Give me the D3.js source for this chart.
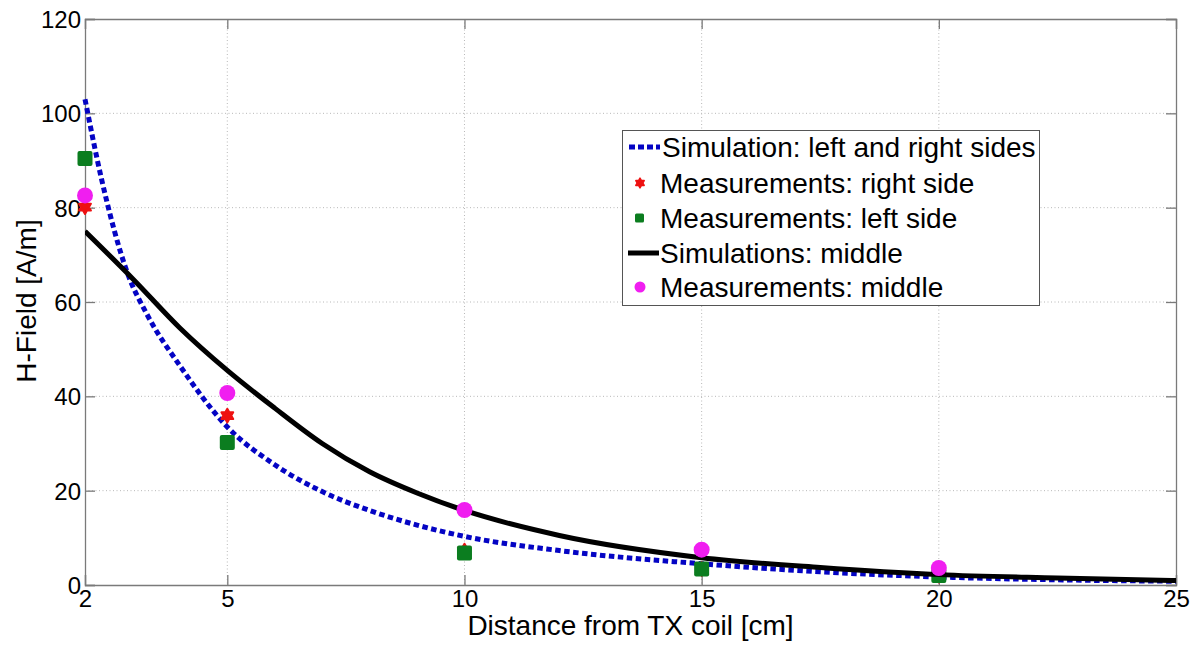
<!DOCTYPE html>
<html><head><meta charset="utf-8">
<script src="https://cdn.jsdelivr.net/npm/d3@7"></script>
<style>
html,body{margin:0;padding:0;background:#fff;}
svg{display:block;font-family:Arial,"Liberation Sans",sans-serif;}
</style></head>
<body><svg id="c" width="1202" height="649"></svg>
<script>
// ---- data ----
const xTicks = [2, 5, 10, 15, 20, 25];
const yTicks = [0, 20, 40, 60, 80, 100, 120];
const simSidesX = [2, 2.35, 2.9, 3.3, 4, 5, 6, 7, 8, 9, 10, 12, 15, 17.5, 20, 22.5, 25];
const simSidesY = [103, 86, 66, 57.5, 46.5, 33.5, 25.5, 19.8, 15.8, 12.7, 10.3, 7.3, 4.5, 2.8, 1.7, 1.1, 0.8];
const simMidX = [2, 3, 4, 5, 6, 7, 8, 9, 10, 12, 15, 17.5, 20, 22.5, 25];
const simMidY = [75, 65, 54.5, 45.5, 37.5, 30, 24, 19.5, 15.8, 10.5, 5.8, 3.7, 2.2, 1.5, 0.95];
const measX = [2, 5, 10, 15, 20];
const measRight = [80.1, 35.9, 7.3, 3.4, 2.0];
const measLeft = [90.4, 30.2, 6.8, 3.4, 2.0];
const measMid = [82.6, 40.7, 15.9, 7.5, 3.6];
const legendLabels = ["Simulation: left and right sides", "Measurements: right side", "Measurements: left side", "Simulations: middle", "Measurements: middle"];

const BLUE = "#0404c4", RED = "#ee1111", GREEN = "#0b7d1f", MAG = "#f01ef0";
const FONT = "Arial, 'Liberation Sans', sans-serif";

const svg = d3.select("#c");
const L = 85, R = 1176, T = 19, B = 585;
const x = d3.scaleLinear().domain([2, 25]).range([L, R]);
const y = d3.scaleLinear().domain([0, 120]).range([B, T]);

// grid
const g = svg.append("g");
g.selectAll(".gx").data(xTicks.filter(d => d > 2 && d < 25)).enter().append("line")
  .attr("x1", d => x(d)).attr("x2", d => x(d)).attr("y1", T).attr("y2", B)
  .attr("stroke", "#b8b8b8").attr("stroke-width", 1).attr("stroke-dasharray", "1,2.5");
g.selectAll(".gy").data(yTicks.filter(d => d > 0 && d < 120)).enter().append("line")
  .attr("y1", d => y(d)).attr("y2", d => y(d)).attr("x1", L).attr("x2", R)
  .attr("stroke", "#b8b8b8").attr("stroke-width", 1).attr("stroke-dasharray", "1,2.5");

// axes (ticks inward on all sides)
const axCol = "#7a7a7a";
const axB = svg.append("g").attr("transform", `translate(0,${B})`)
  .call(d3.axisBottom(x).tickValues(xTicks).tickSize(-10).tickPadding(5).tickFormat(d3.format("d")));
const axT = svg.append("g").attr("transform", `translate(0,${T})`)
  .call(d3.axisTop(x).tickValues(xTicks).tickSize(-10).tickFormat(""));
const axL = svg.append("g").attr("transform", `translate(${L},0)`)
  .call(d3.axisLeft(y).tickValues(yTicks).tickSize(-10).tickPadding(4).tickFormat(d3.format("d")));
const axR = svg.append("g").attr("transform", `translate(${R},0)`)
  .call(d3.axisRight(y).tickValues(yTicks).tickSize(-10).tickFormat(""));
[axB, axT, axL, axR].forEach(a => {
  a.selectAll("path.domain").attr("stroke", axCol).attr("stroke-width", 1.3);
  a.selectAll(".tick line").attr("stroke", axCol).attr("stroke-width", 1.3);
  a.selectAll("text").attr("font-size", 24).attr("fill", "#000").attr("font-family", FONT);
});
axL.selectAll(".tick text").attr("dy", "0.35em");

// lines
const lineGen = d3.line().x(d => x(d[0])).y(d => y(d[1])).curve(d3.curveMonotoneX);
svg.append("clipPath").attr("id", "clp").append("rect").attr("x", L).attr("y", T).attr("width", R - L).attr("height", B - T);

svg.append("path").datum(d3.zip(simSidesX, simSidesY)).attr("d", lineGen)
  .attr("fill", "none").attr("stroke", BLUE).attr("stroke-width", 5).attr("stroke-dasharray", "5.5,3.5");

// hexagram symbol
const hexagram = {
  draw(ctx, size) {
    const r = Math.sqrt(size) / 1.6;
    for (let t = 0; t < 2; t++) {
      for (let i = 0; i < 3; i++) {
        const a = -Math.PI / 2 + t * Math.PI + i * 2 * Math.PI / 3;
        const px = r * Math.cos(a), py = r * Math.sin(a);
        if (i === 0) ctx.moveTo(px, py); else ctx.lineTo(px, py);
      }
      ctx.closePath();
    }
  }
};

svg.append("g").selectAll("path").data(d3.zip(measX, measRight)).enter().append("path")
  .attr("transform", d => `translate(${x(d[0])},${y(d[1])})`)
  .attr("d", d3.symbol().type(hexagram).size(120)).attr("fill", RED)
  .attr("stroke", RED).attr("stroke-width", 2).attr("stroke-linejoin", "round");

svg.append("g").selectAll("rect").data(d3.zip(measX, measLeft)).enter().append("rect")
  .attr("x", d => x(d[0]) - 7.5).attr("y", d => y(d[1]) - 7.5).attr("width", 15).attr("height", 15)
  .attr("rx", 2).attr("fill", GREEN);

svg.append("path").datum(d3.zip(simMidX, simMidY)).attr("d", lineGen)
  .attr("fill", "none").attr("stroke", "#000").attr("stroke-width", 5).attr("clip-path", "url(#clp)");

svg.append("g").selectAll("circle").data(d3.zip(measX, measMid)).enter().append("circle")
  .attr("cx", d => x(d[0])).attr("cy", d => y(d[1])).attr("r", 8).attr("fill", MAG);

// axis labels
svg.append("text").attr("x", (L + R) / 2).attr("y", 635).attr("text-anchor", "middle")
  .attr("font-size", 28).attr("font-family", FONT).text("Distance from TX coil [cm]");
svg.append("text").attr("transform", "translate(36,301) rotate(-90)").attr("text-anchor", "middle")
  .attr("font-size", 28).attr("font-family", FONT).text("H-Field [A/m]");

// legend
const lg = svg.append("g");
lg.append("rect").attr("x", 622.5).attr("y", 130.5).attr("width", 417).attr("height", 175)
  .attr("fill", "#fff").attr("stroke", "#555").attr("stroke-width", 1);
const rowY = [147, 183, 218, 253, 287];
legendLabels.forEach((t, i) => {
  lg.append("text").attr("x", i === 0 ? 662 : 660).attr("y", rowY[i]).attr("dy", "0.36em")
    .attr("font-size", 28).attr("font-family", FONT).text(t);
});
lg.append("line").attr("x1", 629).attr("x2", 660).attr("y1", rowY[0]).attr("y2", rowY[0])
  .attr("stroke", BLUE).attr("stroke-width", 5).attr("stroke-dasharray", "6,3");
lg.append("path").attr("transform", `translate(640,${rowY[1]})`).attr("d", d3.symbol().type(hexagram).size(60))
  .attr("fill", RED).attr("stroke", RED).attr("stroke-width", 1.5).attr("stroke-linejoin", "round");
lg.append("rect").attr("x", 635).attr("y", rowY[2] - 4.5).attr("width", 9).attr("height", 9).attr("rx", 1.5).attr("fill", GREEN);
lg.append("line").attr("x1", 628).attr("x2", 659).attr("y1", rowY[3]).attr("y2", rowY[3])
  .attr("stroke", "#000").attr("stroke-width", 5);
lg.append("circle").attr("cx", 640).attr("cy", rowY[4]).attr("r", 5.5).attr("fill", MAG);
</script>
</body></html>
